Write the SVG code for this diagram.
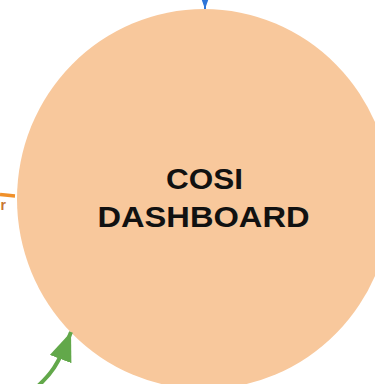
<svg xmlns="http://www.w3.org/2000/svg" width="375" height="384" viewBox="0 0 375 384">
  <style>
    .node-shape { fill: #F8C89C; stroke: none; }
    .title { font-family: "Liberation Sans", Arial, sans-serif; font-weight: bold; font-size: 29px; fill: #111111; text-anchor: middle; }
    .edge { fill: none; }
  </style>
  <defs>
    <marker id="head-green" markerUnits="userSpaceOnUse" markerWidth="30" markerHeight="24" refX="29" refY="11.5" orient="auto">
      <path d="M0,0 L29,11.5 L0,23 z" fill="#62A84A"/>
    </marker>
    <marker id="head-blue" markerUnits="userSpaceOnUse" markerWidth="15" markerHeight="11" refX="14" refY="5" orient="auto">
      <path d="M0,0 L14,5 L0,10 z" fill="#2E75D8"/>
    </marker>
  </defs>
  <rect x="0" y="0" width="375" height="384" fill="#FFFFFF"/>

  <g id="cosi-dashboard">
    <ellipse class="node-shape" cx="204" cy="199" rx="187" ry="190"/>
    <text class="title" x="204.5" y="189" textLength="77" lengthAdjust="spacingAndGlyphs">COSI</text>
    <text class="title" x="203.5" y="227" textLength="212" lengthAdjust="spacingAndGlyphs">DASHBOARD</text>
  </g>

  <g id="connectors">
    <path class="edge" d="M205,-40 L205,9" stroke="#2E75D8" stroke-width="2" marker-end="url(#head-blue)"/>
    <path class="edge" d="M0,194.5 Q8,195.5 15,196" stroke="#F0902A" stroke-width="3.5"/>
    <text x="0.5" y="210" font-family="Liberation Sans, Arial, sans-serif" font-weight="bold" font-size="14" fill="#C8762E">r</text>
    <path class="edge" d="M38,386 C50,375 58,366 71,332" stroke="#62A84A" stroke-width="4" marker-end="url(#head-green)"/>
  </g>
</svg>
